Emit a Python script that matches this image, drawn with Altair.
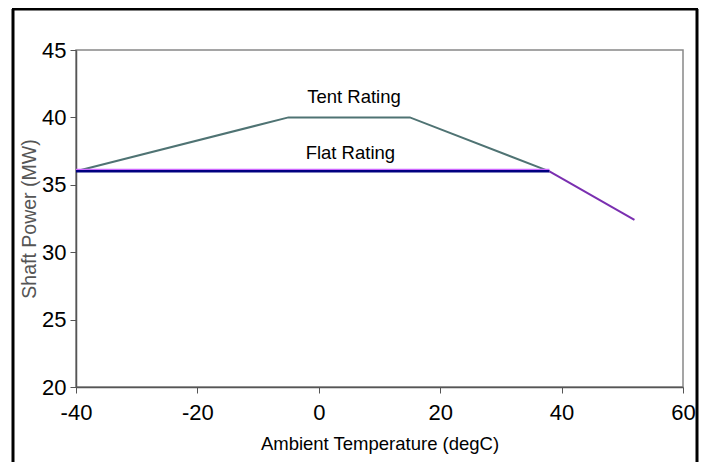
import altair as alt
import pandas as pd

# Data
tent_x = [-40, -5, 15, 38]
tent_y = [36, 40, 40, 36]
flat_x = [-40, 38]
flat_y = [36, 36]
lapse_x = [38, 52]
lapse_y = [36, 32.4]
label_text = ["Tent Rating", "Flat Rating"]
label_x = [5.8, 5.2]
label_y = [41.5, 37.35]
x_ticks = [-40, -20, 0, 20, 40, 60]
y_ticks = [20, 25, 30, 35, 40, 45]

tent = pd.DataFrame({"x": tent_x, "y": tent_y})
flat = pd.DataFrame({"x": flat_x, "y": flat_y})
lapse = pd.DataFrame({"x": lapse_x, "y": lapse_y})
labels = pd.DataFrame({"t": label_text, "x": label_x, "y": label_y})

FONT = "Liberation Sans Narrow, Liberation Sans, Arial, sans-serif"

xs = alt.Scale(domain=[-40, 60], nice=False, zero=False)
ys = alt.Scale(domain=[20, 45], nice=False, zero=False)

xax = alt.Axis(values=x_ticks, grid=False, title="Ambient Temperature (degC)",
               labelExpr="'' + datum.value",
               labelFont=FONT, labelFontSize=22, labelColor="#000",
               titleFont=FONT, titleFontSize=18.5, titleFontWeight="normal",
               titleColor="#000", titlePadding=11, labelPadding=9,
               tickSize=6, tickColor="#555", domainColor="#555", domainWidth=1.5,
               labelFlush=False)
yax = alt.Axis(values=y_ticks, grid=False, title="Shaft Power (MW)",
               labelExpr="'' + datum.value",
               labelFont=FONT, labelFontSize=22, labelColor="#000",
               titleFont="Liberation Sans", titleFontSize=19.5, titleFontWeight="normal",
               titleColor="#555", titlePadding=2, labelPadding=4,
               tickSize=6, tickColor="#555", domainColor="#555", domainWidth=1.5,
               labelFlush=False)

base_x = alt.X("x:Q", scale=xs, axis=xax)
base_y = alt.Y("y:Q", scale=ys, axis=yax)

tent_line = alt.Chart(tent).mark_line(color="#4f7373", strokeWidth=2).encode(x=base_x, y=base_y)
flat_glow = alt.Chart(flat).mark_line(color="#cc66ff", strokeWidth=3).encode(
    x="x:Q", y="y:Q", yOffset=alt.value(-1))
flat_line = alt.Chart(flat).mark_line(color="#000080", strokeWidth=2.5).encode(x="x:Q", y="y:Q")
lapse_line = alt.Chart(lapse).mark_line(color="#7a2fb0", strokeWidth=2).encode(x="x:Q", y="y:Q")
text = alt.Chart(labels).mark_text(font=FONT, fontSize=18.5, color="#000").encode(
    x="x:Q", y="y:Q", text="t:N")

frame_df = pd.DataFrame({"a": [0]})
frame_left = alt.Chart(frame_df).mark_rule(color="#000", strokeWidth=3).encode(
    x=alt.value(-63), y=alt.value(-41), y2=alt.value(460))
frame_right = alt.Chart(frame_df).mark_rule(color="#000", strokeWidth=3).encode(
    x=alt.value(621), y=alt.value(-41), y2=alt.value(460))
frame_top = alt.Chart(frame_df).mark_rule(color="#000", strokeWidth=3).encode(
    x=alt.value(-64), x2=alt.value(622), y=alt.value(-41))

chart = alt.layer(
    tent_line, flat_glow, flat_line, lapse_line, text, frame_left, frame_right, frame_top
).properties(
    width=607, height=337,
    autosize=alt.AutoSizeParams(type="none"),
    padding={"left": 68, "top": 42, "right": 19, "bottom": 75},
    background="white",
).configure_view(stroke="#888", strokeWidth=1.5)

chart.save("out.html", embed_options={"renderer": "svg", "actions": False})
